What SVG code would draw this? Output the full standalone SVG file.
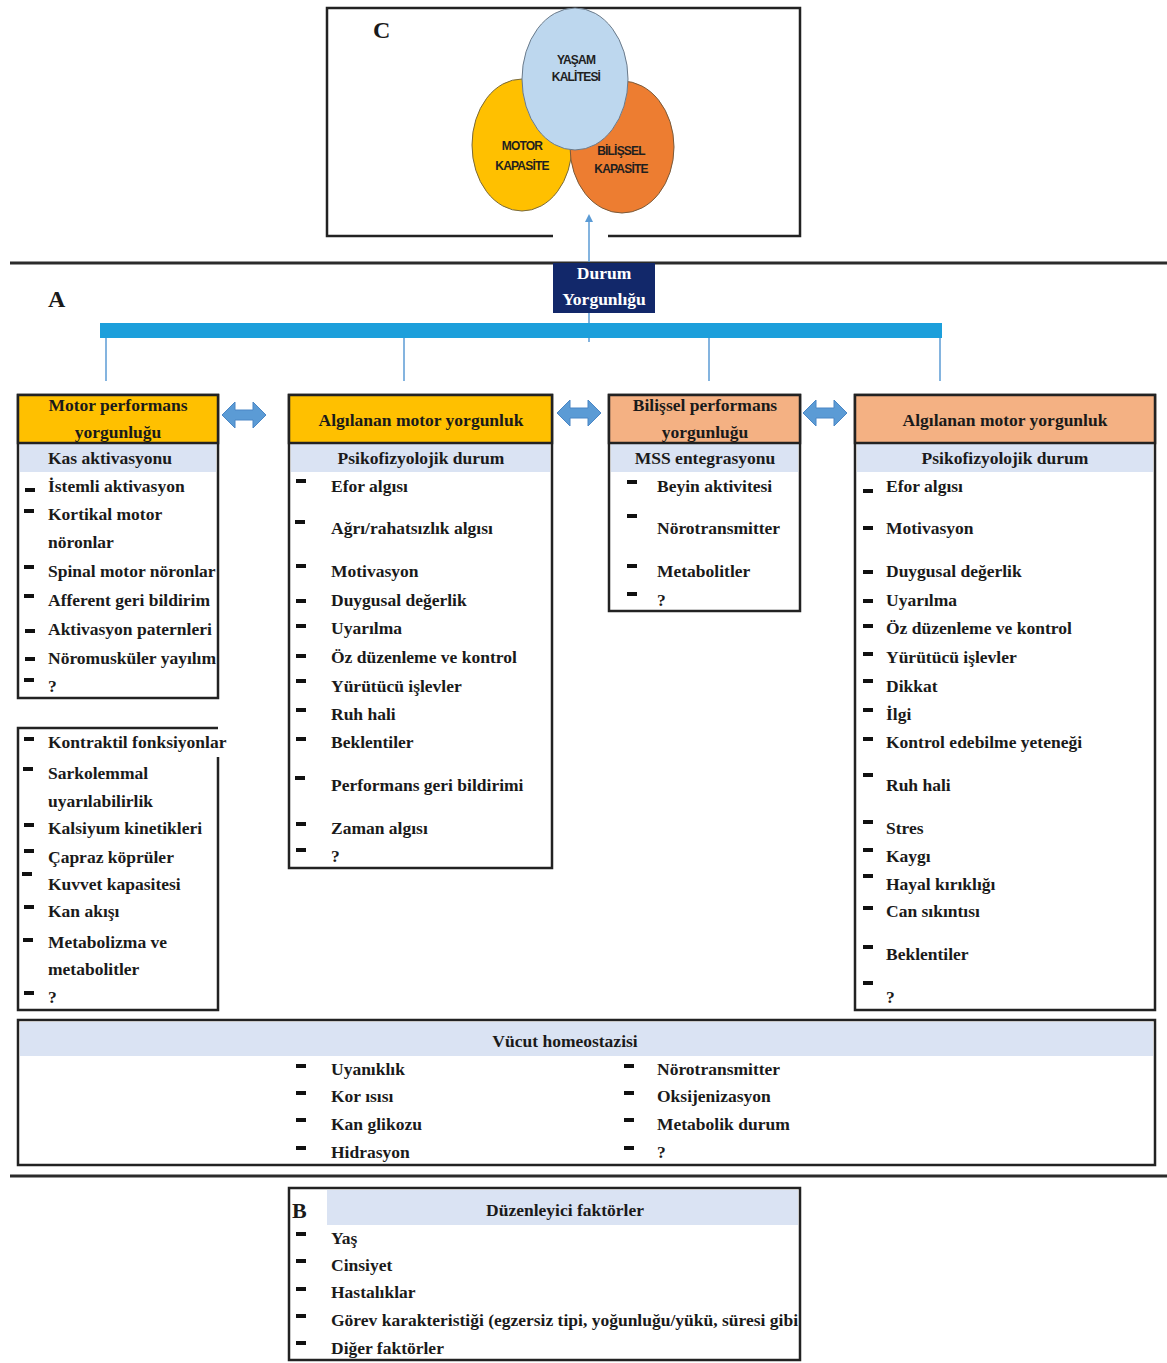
<svg xmlns="http://www.w3.org/2000/svg" width="1167" height="1363" viewBox="0 0 1167 1363">
<style>
.t{font-family:"Liberation Serif","Times New Roman",serif;font-weight:bold;font-size:17.5px;fill:#1a1a1a}
.c{text-anchor:middle}
.lbl{font-family:"Liberation Serif","Times New Roman",serif;font-weight:bold;font-size:24px;fill:#1a1a1a}
.ct{font-family:"Liberation Sans",Arial,sans-serif;font-weight:bold;font-size:12px;fill:#1f1f1f;text-anchor:middle;letter-spacing:-0.8px}
.box{fill:#fff;stroke:#222;stroke-width:2.5}
.hy{fill:#FFC000;stroke:#222;stroke-width:2.5}
.hs{fill:#F4B183;stroke:#222;stroke-width:2.5}
.band{fill:#DAE3F3}
.sep{stroke:#2b2b2b;stroke-width:3}
.conn{stroke:#5B9BD5;stroke-width:1.5;fill:none}
.dbl{fill:#5B9BD5;stroke:#4A86C5;stroke-width:1}
</style>
<defs>
<marker id="ah" markerWidth="8" markerHeight="8" refX="4" refY="4" orient="auto" markerUnits="userSpaceOnUse">
<path d="M0,0 L8,4 L0,8 z" fill="#5B9BD5"/>
</marker>
<symbol id="d" overflow="visible"><rect x="0" y="-2" width="10" height="4" fill="#111"/></symbol>
<path id="darrow" d="M0,0 L13,-13 L13,-5 L31,-5 L31,-13 L44,0 L31,13 L31,5 L13,5 L13,13 z"/>
<clipPath id="clip1"><rect x="18" y="395" width="200" height="303"/></clipPath>
<clipPath id="clipB"><rect x="289" y="1188" width="511" height="172"/></clipPath>
</defs>

<!-- Section separators -->
<line class="sep" x1="10" y1="263" x2="1167" y2="263"/>
<line class="sep" x1="10" y1="1176" x2="1167" y2="1176"/>

<!-- C panel -->
<g id="panelC">
<path d="M553,236 H327 V8 H800 V236 H608" fill="none" stroke="#222" stroke-width="2.5"/>
<text class="lbl" x="373" y="38">C</text>
<ellipse cx="522" cy="145" rx="50" ry="66" fill="#FFC000" stroke="#7a6a3a" stroke-width="1"/>
<ellipse cx="622" cy="147" rx="52" ry="66" fill="#ED7D31" stroke="#7a5a3a" stroke-width="1"/>
<ellipse cx="575" cy="79" rx="53" ry="71" fill="#BDD7EE" stroke="#6a7a8a" stroke-width="1"/>
<text class="ct" x="576" y="64">YAŞAM</text>
<text class="ct" x="576" y="81">KALİTESİ</text>
<text class="ct" x="522" y="150">MOTOR</text>
<text class="ct" x="522" y="170">KAPASİTE</text>
<text class="ct" x="621" y="155">BİLİŞSEL</text>
<text class="ct" x="621" y="173">KAPASİTE</text>
</g>

<!-- Connectors -->
<g id="connectors">
<line class="conn" x1="589" y1="262" x2="589" y2="218" marker-end="url(#ah)"/>
<line class="conn" x1="589" y1="312" x2="589" y2="342"/>
<rect x="100" y="323" width="842" height="15" fill="#1C9FDB"/>
<line class="conn" x1="106" y1="338" x2="106" y2="381"/>
<line class="conn" x1="404" y1="338" x2="404" y2="381"/>
<line class="conn" x1="709" y1="338" x2="709" y2="381"/>
<line class="conn" x1="940" y1="338" x2="940" y2="381"/>
<use href="#darrow" class="dbl" x="222" y="415"/>
<use href="#darrow" class="dbl" x="557" y="413"/>
<use href="#darrow" class="dbl" x="803" y="413"/>
</g>

<!-- A label + Durum -->
<text class="lbl" x="48" y="307">A</text>
<g id="durum">
<rect x="553" y="263" width="102" height="50" fill="#12286A"/>
<text class="t c" x="604" y="279" style="fill:#fff">Durum</text>
<text class="t c" x="604" y="305" style="fill:#fff">Yorgunlığu</text>
</g>

<!-- Box 1 -->
<g id="motorPerf">
<rect class="box" x="18" y="395" width="200" height="303"/>
<rect class="band" x="20" y="444" width="196" height="28"/>
<rect class="hy" x="18" y="395" width="200" height="48"/>
<text class="t c" x="118" y="411">Motor performans</text>
<text class="t c" x="118" y="438">yorgunluğu</text>
<g clip-path="url(#clip1)">
<text class="t c" x="110" y="464">Kas aktivasyonu</text>
<text class="t" x="48" y="492">İstemli aktivasyon</text>
<text class="t" x="48" y="520">Kortikal motor</text>
<text class="t" x="48" y="548">nöronlar</text>
<text class="t" x="48" y="577">Spinal motor nöronlar</text>
<text class="t" x="48" y="606">Afferent geri bildirim</text>
<text class="t" x="48" y="635">Aktivasyon paternleri</text>
<text class="t" x="48" y="664">Nöromusküler yayılım</text>
<text class="t" x="48" y="692">?</text>
</g>
<use href="#d" x="25" y="490"/><use href="#d" x="24" y="511"/><use href="#d" x="24" y="567"/>
<use href="#d" x="24" y="596"/><use href="#d" x="25" y="631"/><use href="#d" x="25" y="659"/><use href="#d" x="24" y="680"/>
</g>

<!-- Box 1b -->
<g id="kontraktil">
<path d="M218,757 V1010 H18 V728 H218" fill="none" stroke="#222" stroke-width="2.5"/>
<text class="t" x="48" y="748">Kontraktil fonksiyonlar</text>
<text class="t" x="48" y="779">Sarkolemmal</text>
<text class="t" x="48" y="807">uyarılabilirlik</text>
<text class="t" x="48" y="834">Kalsiyum kinetikleri</text>
<text class="t" x="48" y="863">Çapraz köprüler</text>
<text class="t" x="48" y="890">Kuvvet kapasitesi</text>
<text class="t" x="48" y="917">Kan akışı</text>
<text class="t" x="48" y="948">Metabolizma ve</text>
<text class="t" x="48" y="975">metabolitler</text>
<text class="t" x="48" y="1003">?</text>
<use href="#d" x="24" y="739"/><use href="#d" x="23" y="769"/><use href="#d" x="24" y="825"/><use href="#d" x="24" y="851"/>
<use href="#d" x="22" y="874"/><use href="#d" x="24" y="907"/><use href="#d" x="23" y="940"/><use href="#d" x="24" y="993"/>
</g>

<!-- Box 2 -->
<g id="algilanan1">
<rect class="box" x="289" y="395" width="263" height="473"/>
<rect class="band" x="291" y="444" width="259" height="28"/>
<rect class="hy" x="289" y="395" width="263" height="48"/>
<text class="t c" x="421" y="426">Algılanan motor yorgunluk</text>
<text class="t c" x="421" y="464">Psikofizyolojik durum</text>
<text class="t" x="331" y="492">Efor algısı</text>
<text class="t" x="331" y="534">Ağrı/rahatsızlık algısı</text>
<text class="t" x="331" y="577">Motivasyon</text>
<text class="t" x="331" y="606">Duygusal değerlik</text>
<text class="t" x="331" y="634">Uyarılma</text>
<text class="t" x="331" y="663">Öz düzenleme ve kontrol</text>
<text class="t" x="331" y="692">Yürütücü işlevler</text>
<text class="t" x="331" y="720">Ruh hali</text>
<text class="t" x="331" y="748">Beklentiler</text>
<text class="t" x="331" y="791">Performans geri bildirimi</text>
<text class="t" x="331" y="834">Zaman algısı</text>
<text class="t" x="331" y="862">?</text>
<use href="#d" x="296" y="481"/><use href="#d" x="295" y="522"/><use href="#d" x="296" y="566"/><use href="#d" x="296" y="601"/>
<use href="#d" x="296" y="626"/><use href="#d" x="296" y="656"/><use href="#d" x="296" y="681"/><use href="#d" x="296" y="710"/>
<use href="#d" x="296" y="739"/><use href="#d" x="295" y="778"/><use href="#d" x="296" y="824"/><use href="#d" x="296" y="850"/>
</g>

<!-- Box 3 -->
<g id="bilissel">
<rect class="box" x="609" y="395" width="191" height="216"/>
<rect class="band" x="611" y="444" width="187" height="28"/>
<rect class="hs" x="609" y="395" width="191" height="48"/>
<text class="t c" x="705" y="411">Bilişsel performans</text>
<text class="t c" x="705" y="438">yorgunluğu</text>
<text class="t c" x="705" y="464">MSS entegrasyonu</text>
<text class="t" x="657" y="492">Beyin aktivitesi</text>
<text class="t" x="657" y="534">Nörotransmitter</text>
<text class="t" x="657" y="577">Metabolitler</text>
<text class="t" x="657" y="606">?</text>
<use href="#d" x="627" y="482"/><use href="#d" x="627" y="516"/><use href="#d" x="627" y="566"/><use href="#d" x="627" y="594"/>
</g>

<!-- Box 4 -->
<g id="algilanan2">
<rect class="box" x="855" y="395" width="300" height="615"/>
<rect class="band" x="857" y="444" width="296" height="28"/>
<rect class="hs" x="855" y="395" width="300" height="48"/>
<text class="t c" x="1005" y="426">Algılanan motor yorgunluk</text>
<text class="t c" x="1005" y="464">Psikofizyolojik durum</text>
<text class="t" x="886" y="492">Efor algısı</text>
<text class="t" x="886" y="534">Motivasyon</text>
<text class="t" x="886" y="577">Duygusal değerlik</text>
<text class="t" x="886" y="606">Uyarılma</text>
<text class="t" x="886" y="634">Öz düzenleme ve kontrol</text>
<text class="t" x="886" y="663">Yürütücü işlevler</text>
<text class="t" x="886" y="692">Dikkat</text>
<text class="t" x="886" y="720">İlgi</text>
<text class="t" x="886" y="748">Kontrol edebilme yeteneği</text>
<text class="t" x="886" y="791">Ruh hali</text>
<text class="t" x="886" y="834">Stres</text>
<text class="t" x="886" y="862">Kaygı</text>
<text class="t" x="886" y="890">Hayal kırıklığı</text>
<text class="t" x="886" y="917">Can sıkıntısı</text>
<text class="t" x="886" y="960">Beklentiler</text>
<text class="t" x="886" y="1003">?</text>
<use href="#d" x="863" y="491"/><use href="#d" x="863" y="528"/><use href="#d" x="863" y="572"/><use href="#d" x="863" y="601"/>
<use href="#d" x="863" y="626"/><use href="#d" x="863" y="654"/><use href="#d" x="863" y="681"/><use href="#d" x="863" y="710"/>
<use href="#d" x="863" y="739"/><use href="#d" x="863" y="775"/><use href="#d" x="863" y="822"/><use href="#d" x="863" y="850"/>
<use href="#d" x="863" y="876"/><use href="#d" x="863" y="908"/><use href="#d" x="863" y="947"/><use href="#d" x="863" y="983"/>
</g>

<!-- Vücut homeostazisi -->
<g id="vucut">
<rect class="box" x="18" y="1020" width="1137" height="145"/>
<rect class="band" x="20" y="1022" width="1133" height="34"/>
<text class="t c" x="565" y="1047">Vücut homeostazisi</text>
<text class="t" x="331" y="1075">Uyanıklık</text>
<text class="t" x="331" y="1102">Kor ısısı</text>
<text class="t" x="331" y="1130">Kan glikozu</text>
<text class="t" x="331" y="1158">Hidrasyon</text>
<text class="t" x="657" y="1075">Nörotransmitter</text>
<text class="t" x="657" y="1102">Oksijenizasyon</text>
<text class="t" x="657" y="1130">Metabolik durum</text>
<text class="t" x="657" y="1158">?</text>
<use href="#d" x="296" y="1066"/><use href="#d" x="296" y="1093"/><use href="#d" x="296" y="1120"/><use href="#d" x="296" y="1148"/>
<use href="#d" x="624" y="1066"/><use href="#d" x="624" y="1093"/><use href="#d" x="624" y="1120"/><use href="#d" x="624" y="1148"/>
</g>

<!-- B panel -->
<g id="duzenleyici">
<rect class="box" x="289" y="1188" width="511" height="172"/>
<rect class="band" x="327" y="1190" width="471" height="35"/>
<text class="lbl" x="292" y="1218" style="font-size:22px">B</text>
<text class="t c" x="565" y="1216">Düzenleyici faktörler</text>
<g clip-path="url(#clipB)">
<text class="t" x="331" y="1244">Yaş</text>
<text class="t" x="331" y="1271">Cinsiyet</text>
<text class="t" x="331" y="1298">Hastalıklar</text>
<text class="t" x="331" y="1326">Görev karakteristiği (egzersiz tipi, yoğunluğu/yükü, süresi gibi</text>
<text class="t" x="331" y="1354">Diğer faktörler</text>
</g>
<use href="#d" x="296" y="1234"/><use href="#d" x="296" y="1261"/><use href="#d" x="296" y="1289"/><use href="#d" x="296" y="1316"/><use href="#d" x="296" y="1343"/>
</g>
</svg>
